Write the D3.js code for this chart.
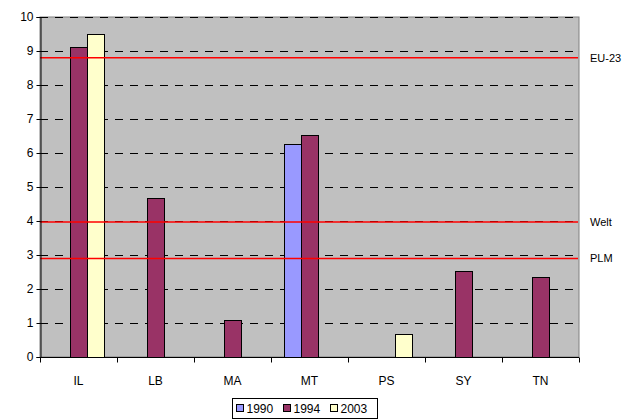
<!DOCTYPE html>
<html>
<head>
<meta charset="utf-8">
<script src="https://cdn.jsdelivr.net/npm/d3@7"></script>
<style>
  body { margin: 0; background: #fff; }
  text { font-family: "Liberation Sans", Arial, sans-serif; font-size: 12px; fill: #000; }
</style>
</head>
<body>
<script>
// chart data
var categories = ['IL', 'LB', 'MA', 'MT', 'PS', 'SY', 'TN'];
var series = ['1990', '1994', '2003'];
var values1990 = [null, null, null, 6.27, null, null, null];
var values1994 = [9.12, 4.67, 1.08, 6.52, null, 2.53, 2.36];
var values2003 = [9.5, null, null, null, 0.69, null, null];
var yTicks = [0, 1, 2, 3, 4, 5, 6, 7, 8, 9, 10];

// reference lines
var refNames = ['EU-23', 'Welt', 'PLM'];
var refValues = [8.8, 3.97, 2.9];

var colors = { '1990': '#9999FF', '1994': '#993366', '2003': '#FFFFCC' };

var width = 636,
    height = 420;

// plot area edges (window.top is reserved, so prefixed names)
var plotLeft = 40, plotRight = 579, plotTop = 17, plotBottom = 357;

var svg = d3.select('body')
  .append('svg')
  .attr('width', width)
  .attr('height', height);

var x = d3.scaleBand()
  .domain(categories)
  .range([plotLeft, plotRight]);

// inner scale for the three years inside one category
var x1 = d3.scaleBand()
  .domain(series)
  .range([13, x.bandwidth() - 13]);

var y = d3.scaleLinear()
  .domain([0, 10])
  .range([plotBottom, plotTop]);

// plot background
svg.append('rect')
  .attr('x', plotLeft)
  .attr('y', plotTop)
  .attr('width', plotRight - plotLeft)
  .attr('height', plotBottom - plotTop)
  .attr('fill', '#C0C0C0')
  .attr('stroke', '#808080')
  .attr('stroke-width', 1);

// dashed gridlines
svg.selectAll('.grid')
  .data(yTicks.filter(function(d) { return d > 0; }))
  .enter()
  .append('line')
  .attr('x1', plotLeft)
  .attr('x2', plotRight)
  .attr('y1', function(d) { return Math.round(y(d)) + 0.5; })
  .attr('y2', function(d) { return Math.round(y(d)) + 0.5; })
  .attr('stroke', '#000')
  .attr('stroke-dasharray', '8,7');

// bars, one row per category
var rows = categories.map(function(c, i) {
  return [
    { cat: c, key: '1990', value: values1990[i] },
    { cat: c, key: '1994', value: values1994[i] },
    { cat: c, key: '2003', value: values2003[i] }
  ].filter(function(d) { return d.value != null; });
});

svg.selectAll('.group')
  .data(rows)
  .enter()
  .append('g')
  .attr('transform', function(d, i) { return 'translate(' + x(categories[i]) + ',0)'; })
  .selectAll('rect')
  .data(function(d) { return d; })
  .enter()
  .append('rect')
  .attr('x', function(d) { return Math.round(x1(d.key)) + 0.5; })
  .attr('y', function(d) { return Math.round(y(d.value)) + 0.5; })
  .attr('width', Math.round(x1.bandwidth()))
  .attr('height', function(d) { return plotBottom - Math.round(y(d.value)); })
  .attr('fill', function(d) { return colors[d.key]; })
  .attr('stroke', '#000')
  .attr('stroke-width', 1);

// red reference lines with labels
svg.selectAll('.ref')
  .data(refValues)
  .enter()
  .append('line')
  .attr('x1', plotLeft)
  .attr('x2', plotRight - 1)
  .attr('y1', function(d) { return y(d); })
  .attr('y2', function(d) { return y(d); })
  .attr('stroke', '#FF0000')
  .attr('stroke-width', 1.5);

svg.selectAll('.refLabel')
  .data(refValues)
  .enter()
  .append('text')
  .attr('x', 590)
  .attr('y', function(d) { return y(d) + 4; })
  .style('font-size', '11px')
  .text(function(d, i) { return refNames[i]; });

// y axis
var yAxis = svg.append('g')
  .attr('transform', 'translate(' + (plotLeft + 0.5) + ',0)')
  .call(d3.axisLeft(y).tickValues(yTicks).tickSize(4).tickPadding(3));
yAxis.select('.domain').attr('stroke', '#000');
yAxis.selectAll('text').style('font-size', '12px').style('font-family', '"Liberation Sans", Arial, sans-serif');

// x axis with ticks between categories
var xAxis = svg.append('g')
  .attr('transform', 'translate(0,' + (plotBottom + 0.5) + ')');
xAxis.append('line')
  .attr('x1', plotLeft)
  .attr('x2', plotRight)
  .attr('stroke', '#000');
xAxis.selectAll('.xt')
  .data(categories.concat(['end']))
  .enter()
  .append('line')
  .attr('x1', function(d, i) { return Math.round(plotLeft + i * x.bandwidth()) + 0.5; })
  .attr('x2', function(d, i) { return Math.round(plotLeft + i * x.bandwidth()) + 0.5; })
  .attr('y1', 0)
  .attr('y2', 5)
  .attr('stroke', '#000');
xAxis.selectAll('.xl')
  .data(categories)
  .enter()
  .append('text')
  .attr('x', function(d) { return x(d) + x.bandwidth() / 2; })
  .attr('y', 27)
  .attr('text-anchor', 'middle')
  .text(function(d) { return d; });

// legend
var legend = svg.append('g').attr('transform', 'translate(232.5,398.5)');
legend.append('rect')
  .attr('width', 145)
  .attr('height', 20)
  .attr('fill', '#fff')
  .attr('stroke', '#000');
var item = legend.selectAll('.item')
  .data(series)
  .enter()
  .append('g')
  .attr('transform', function(d, i) { return 'translate(' + (4 + i * 47) + ',0)'; });
item.append('rect')
  .attr('y', 6)
  .attr('width', 7)
  .attr('height', 7)
  .attr('fill', function(d) { return colors[d]; })
  .attr('stroke', '#000');
item.append('text')
  .attr('x', 10)
  .attr('y', 14.5)
  .text(function(d) { return d; });
</script>
</body>
</html>
